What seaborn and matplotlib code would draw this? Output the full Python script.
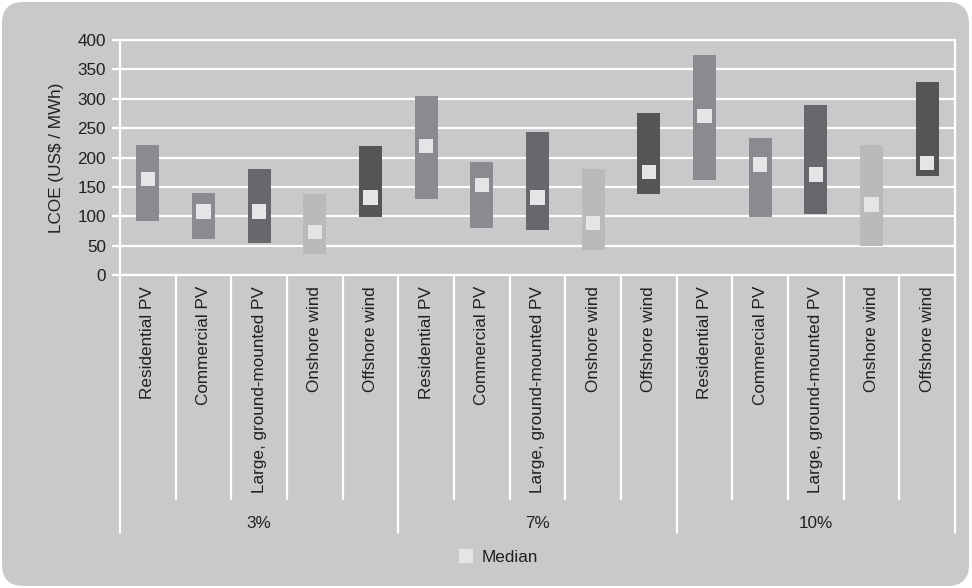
import numpy as np
import pandas as pd
import matplotlib
matplotlib.use("Agg")
import matplotlib.pyplot as plt
from matplotlib.patches import FancyBboxPatch
from matplotlib.lines import Line2D
import seaborn as sns

# LCOE ranges by discount rate and technology (US$/MWh)
discount_rates = ["3%", "7%", "10%"]
technologies = ["Residential PV", "Commercial PV", "Large, ground-mounted PV",
                "Onshore wind", "Offshore wind"]

lcoe_low = [92, 61, 54, 36, 98,
            129, 80, 77, 43, 138,
            162, 98, 104, 50, 169]
lcoe_high = [221, 140, 180, 138, 220,
             305, 192, 243, 180, 276,
             375, 233, 289, 221, 329]
lcoe_median = [163, 108, 108, 73, 132,
               219, 153, 132, 88, 175,
               270, 188, 171, 120, 190]

tech_colors = {
    "Residential PV": "#8a8b8e",
    "Commercial PV": "#8a8b8e",
    "Large, ground-mounted PV": "#67686b",
    "Onshore wind": "#b9babc",
    "Offshore wind": "#545557",
}

BG = "#c8c9cb"
MEDIAN_COLOR = "#e4e5e6"
TEXT = "#231f20"
FS = 12.3

rows = []
for r in discount_rates:
    for t in technologies:
        rows.append({"rate": r, "tech": t, "key": f"{r} | {t}"})
df = pd.DataFrame(rows)
df["low"] = lcoe_low
df["high"] = lcoe_high
df["span"] = df["high"] - df["low"]
df["median"] = lcoe_median
df["pos"] = np.arange(len(df))

sns.set_style("white")
plt.rcParams["font.family"] = ["Liberation Sans", "DejaVu Sans"]

fig = plt.figure(figsize=(9.72, 5.88), dpi=100, facecolor="white")
fig.patches.append(FancyBboxPatch(
    (2 / 972, 2 / 588), 967 / 972, 584 / 588,
    boxstyle="round,pad=0,rounding_size=0.022",
    transform=fig.transFigure, facecolor=BG, edgecolor="none", zorder=-10,
    mutation_aspect=972 / 588))

ax = fig.add_axes([120 / 972, 1 - 275 / 588, 835 / 972, 235 / 588])
ax.set_facecolor(BG)

sns.barplot(data=df, x="key", y="span", order=list(df["key"]),
            bottom=df["low"].to_numpy(), width=0.41, errorbar=None,
            color="#8a8b8e", ax=ax, zorder=3, linewidth=0)
for patch, tech in zip(ax.patches, df["tech"]):
    patch.set_facecolor(tech_colors[tech])

sns.scatterplot(data=df, x="pos", y="median", marker="s", s=105,
                color=MEDIAN_COLOR, edgecolor="none", linewidth=0,
                ax=ax, zorder=4, legend=False)

ax.set_xlim(-0.5, len(df) - 0.5)
ax.set_ylim(0, 400)
ax.set_yticks(np.arange(0, 401, 50))
ax.yaxis.grid(True, color="white", linewidth=1.6, zorder=0)
ax.set_axisbelow(True)
for side in ["left", "right", "top", "bottom"]:
    ax.spines[side].set_visible(True)
    ax.spines[side].set_color("white")
    ax.spines[side].set_linewidth(1.6)

ax.tick_params(axis="y", colors="white", length=6, width=1.6,
               labelcolor=TEXT, labelsize=FS, pad=4, direction="out", left=True)
ax.set_xticks(df["pos"])
ax.set_xticklabels(df["tech"], rotation=90, va="top", ha="center",
                   fontsize=FS, color=TEXT)
ax.tick_params(axis="x", length=0, pad=8)
ax.set_xlabel("")
ax.set_ylabel("LCOE (US$ / MWh)", fontsize=FS, color=TEXT, labelpad=10)

# separators between categories and between discount-rate groups
trans = ax.get_xaxis_transform()
inner_bottom = -(499 - 275) / 235
group_bottom = -(533 - 275) / 235
n_tech = len(technologies)
for i in range(len(df) + 1):
    edge = i - 0.5
    bottom = group_bottom if i % n_tech == 0 else inner_bottom
    ax.add_line(Line2D([edge, edge], [0, bottom], transform=trans,
                       color="white", linewidth=1.6, clip_on=False))

for g, rate in enumerate(discount_rates):
    center = g * n_tech + (n_tech - 1) / 2
    ax.text(center, -(523 - 275) / 235, rate, transform=trans,
            ha="center", va="center", fontsize=FS, color=TEXT)

handle = Line2D([], [], marker="s", linestyle="none", markersize=10.5,
                markerfacecolor=MEDIAN_COLOR, markeredgewidth=0)
fig.legend([handle], ["Median"], loc="center",
           bbox_to_anchor=(498 / 972, 1 - 557 / 588), frameon=False,
           fontsize=FS, handletextpad=0.4, handlelength=1.0, labelcolor=TEXT)

fig.savefig("out.png", dpi=100, facecolor="white")
